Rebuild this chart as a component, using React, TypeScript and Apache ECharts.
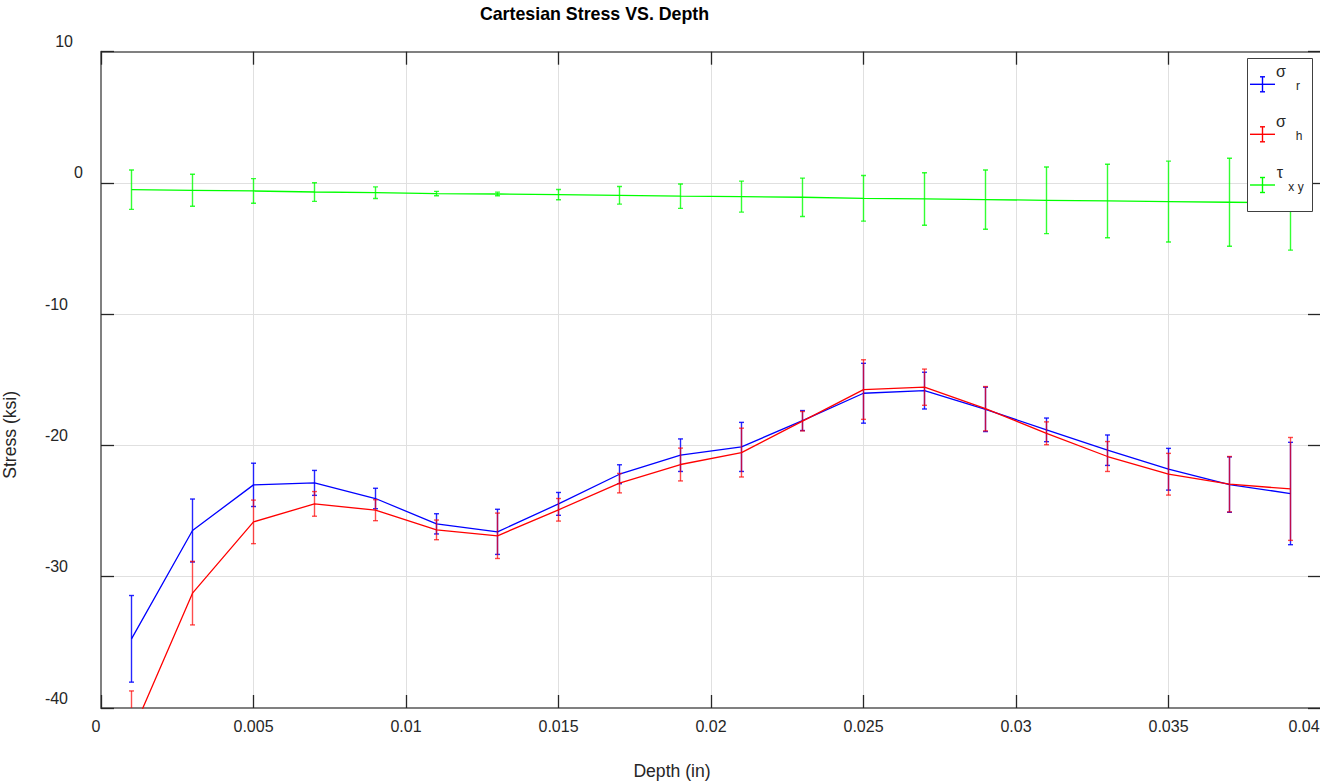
import React, { useEffect, useRef } from "react";
import * as echarts from "echarts";

// Depth sample positions (in)
const depth = [
  0.001, 0.003, 0.005, 0.007, 0.009, 0.011, 0.013, 0.015, 0.017, 0.019,
  0.021, 0.023, 0.025, 0.027, 0.029, 0.031, 0.033, 0.035, 0.037, 0.039,
];

// σr mean and error (ksi)
const sigmaR = [
  -34.73, -26.48, -23.0, -22.85, -24.04, -25.97, -26.58, -24.45, -22.19, -20.74,
  -20.11, -18.1, -16.02, -15.82, -17.25, -18.81, -20.36, -21.81, -22.98, -23.66,
];
const sigmaRErr = [
  3.3, 2.4, 1.65, 0.95, 0.78, 0.77, 1.72, 0.87, 0.72, 1.24,
  1.87, 0.76, 2.28, 1.4, 1.69, 0.9, 1.16, 1.59, 2.11, 3.9,
];

// σh mean and error (ksi)
const sigmaH = [
  -42.0, -31.25, -25.82, -24.45, -24.93, -26.43, -26.88, -24.9, -22.87, -21.45,
  -20.54, -18.15, -15.74, -15.56, -17.2, -19.07, -20.84, -22.19, -22.95, -23.31,
];
const sigmaHErr = [
  3.3, 2.42, 1.66, 0.94, 0.8, 0.75, 1.73, 0.86, 0.74, 1.25,
  1.86, 0.74, 2.27, 1.38, 1.69, 0.87, 1.14, 1.59, 2.11, 3.92,
];

// τxy mean and error (ksi)
const tauXY = [
  -0.51, -0.56, -0.61, -0.69, -0.74, -0.81, -0.84, -0.89, -0.94, -1.01,
  -1.04, -1.09, -1.17, -1.22, -1.27, -1.32, -1.37, -1.42, -1.47, -1.52,
];
const tauErr = [
  1.5, 1.22, 0.94, 0.71, 0.44, 0.17, 0.14, 0.39, 0.67, 0.93,
  1.18, 1.46, 1.74, 2.0, 2.26, 2.54, 2.8, 3.08, 3.35, 3.6,
];

const xTickLabels = ["0", "0.005", "0.01", "0.015", "0.02", "0.025", "0.03", "0.035", "0.04"];
const yTickLabels = ["-40", "-30", "-20", "-10", "0", "10"];

const BLUE = "#0000ff";
const RED = "#ff0000";
const GREEN = "#00ff00";
const FONT = "'Liberation Sans', Arial, Helvetica, sans-serif";
const TEXT = "#262626";

function errorBarSeries(name: string, ys: number[], errs: number[], color: string, opacity: number) {
  return {
    name: name + "-err",
    type: "custom",
    clip: true,
    data: depth.map((d, i) => [d, ys[i], errs[i]]),
    encode: { x: 0, y: 1 },
    renderItem: (_params: any, api: any) => {
      const x = api.value(0);
      const y = api.value(1);
      const e = api.value(2);
      const top = api.coord([x, y + e]);
      const bot = api.coord([x, y - e]);
      const hw = 2.5;
      const style = { stroke: color, lineWidth: 1.4, opacity };
      return {
        type: "group",
        children: [
          { type: "line", shape: { x1: top[0], y1: top[1], x2: bot[0], y2: bot[1] }, style },
          { type: "line", shape: { x1: top[0] - hw, y1: top[1], x2: top[0] + hw, y2: top[1] }, style },
          { type: "line", shape: { x1: bot[0] - hw, y1: bot[1], x2: bot[0] + hw, y2: bot[1] }, style },
        ],
      };
    },
  };
}

function lineSeries(name: string, ys: number[], color: string) {
  return {
    name,
    type: "line",
    data: depth.map((d, i) => [d, ys[i]]),
    showSymbol: false,
    clip: true,
    lineStyle: { color, width: 1.3 },
    itemStyle: { color },
  };
}

function legendEntry(y0: number, color: string, main: string, sub: string, mainX: number, subX: number) {
  const s = { stroke: color, lineWidth: 1.4 };
  return [
    { type: "line", z: 101, shape: { x1: 1250, y1: y0, x2: 1275, y2: y0 }, style: s },
    { type: "line", z: 101, shape: { x1: 1262.5, y1: y0 - 7.5, x2: 1262.5, y2: y0 + 7.5 }, style: s },
    { type: "line", z: 101, shape: { x1: 1260, y1: y0 - 7.5, x2: 1265, y2: y0 - 7.5 }, style: s },
    { type: "line", z: 101, shape: { x1: 1260, y1: y0 + 7.5, x2: 1265, y2: y0 + 7.5 }, style: s },
    {
      type: "text", z: 101, x: mainX, y: y0 - 12.5,
      style: { text: main, fill: TEXT, font: `16px ${FONT}`, align: "center", verticalAlign: "middle" },
    },
    {
      type: "text", z: 101, x: subX, y: y0 + 1.5,
      style: { text: sub, fill: TEXT, font: `12px ${FONT}`, align: "center", verticalAlign: "middle" },
    },
  ];
}

export default function App() {
  const ref = useRef<HTMLDivElement>(null);

  useEffect(() => {
    if (!ref.current) return;
    const chart = echarts.init(ref.current, undefined, { renderer: "svg" });

    const option: any = {
      animation: false,
      backgroundColor: "#ffffff",
      title: {
        text: "Cartesian Stress VS. Depth",
        left: 594.5,
        top: 3,
        textAlign: "center",
        padding: 0,
        textStyle: { fontFamily: FONT, fontSize: 17.8, fontWeight: "bold", color: "#000000", lineHeight: 22 },
      },
      grid: {
        left: 101,
        top: 51.7,
        width: 1220,
        height: 656.3,
        containLabel: false,
        outerBoundsMode: "none",
      },
      xAxis: [
        {
          type: "value",
          position: "bottom",
          min: 0,
          max: 0.04,
          interval: 0.005,
          name: "Depth (in)",
          nameLocation: "middle",
          nameGap: 54,
          nameTextStyle: { fontFamily: FONT, fontSize: 17.6, color: TEXT, padding: [0, 78, 0, 0] },
          axisLine: { show: true, onZero: false, lineStyle: { color: "#808080", width: 2 } },
          axisTick: { show: true, inside: true, length: 13, lineStyle: { color: TEXT, width: 1.3 } },
          splitLine: { show: true, lineStyle: { color: "#e0e0e0", width: 1 } },
          axisLabel: {
            margin: 10,
            fontFamily: FONT,
            fontSize: 16,
            color: TEXT,
            formatter: (v: number) => {
              const t = xTickLabels[Math.round(v / 0.005)];
              if (t === "0") return `{p0|${t}}`;
              if (t === "0.04") return `{pEnd|${t}}`;
              return t;
            },
            rich: {
              p0: { fontFamily: FONT, fontSize: 16, color: TEXT, padding: [0, 10, 0, 0] },
              pEnd: { fontFamily: FONT, fontSize: 16, color: TEXT, padding: [0, 34, 0, 0] },
            },
          },
        },
        {
          type: "value",
          position: "top",
          min: 0,
          max: 0.04,
          interval: 0.005,
          axisLine: { show: true, onZero: false, lineStyle: { color: "#808080", width: 2 } },
          axisTick: { show: true, inside: true, length: 13, lineStyle: { color: TEXT, width: 1.3 } },
          splitLine: { show: false },
          axisLabel: { show: false },
        },
      ],
      yAxis: [
        {
          type: "value",
          position: "left",
          min: -40,
          max: 10,
          interval: 10,
          name: "Stress (ksi)",
          nameLocation: "middle",
          nameGap: 82,
          nameTextStyle: { fontFamily: FONT, fontSize: 17.6, color: TEXT, padding: [0, 110, 0, 0] },
          axisLine: { show: true, onZero: false, lineStyle: { color: "#808080", width: 2 } },
          axisTick: { show: true, inside: true, length: 13, lineStyle: { color: TEXT, width: 1.3 } },
          splitLine: { show: true, lineStyle: { color: "#e0e0e0", width: 1 } },
          axisLabel: {
            margin: 18,
            align: "right",
            formatter: (v: number) => {
              const t = yTickLabels[Math.round((v + 40) / 10)];
              const key = t === "10" ? "a" : t === "0" ? "b" : "c";
              return `{${key}|${t}}`;
            },
            rich: {
              a: { fontFamily: FONT, fontSize: 16, color: TEXT, padding: [0, 10, 20, 0] },
              b: { fontFamily: FONT, fontSize: 16, color: TEXT, padding: [0, 0, 20, 0] },
              c: { fontFamily: FONT, fontSize: 16, color: TEXT, padding: [0, 15, 20, 0] },
            },
          },
        },
        {
          type: "value",
          position: "right",
          min: -40,
          max: 10,
          interval: 10,
          axisLine: { show: true, onZero: false, lineStyle: { color: "#808080", width: 2 } },
          axisTick: { show: true, inside: true, length: 13, lineStyle: { color: TEXT, width: 1.3 } },
          splitLine: { show: false },
          axisLabel: { show: false },
        },
      ],
      series: [
        { ...lineSeries("σr", sigmaR, BLUE), z: 2 },
        { ...errorBarSeries("σr", sigmaR, sigmaRErr, BLUE, 0.85), z: 3 },
        { ...lineSeries("σh", sigmaH, RED), z: 4 },
        { ...errorBarSeries("σh", sigmaH, sigmaHErr, RED, 0.7), z: 5 },
        { ...lineSeries("τxy", tauXY, GREEN), z: 6 },
        { ...errorBarSeries("τxy", tauXY, tauErr, GREEN, 0.8), z: 7 },
      ],
      graphic: [
        {
          type: "rect",
          z: 100,
          shape: { x: 1247.5, y: 58.5, width: 65, height: 153 },
          style: { fill: "#ffffff", stroke: "#404040", lineWidth: 1 },
        },
        ...legendEntry(84.3, BLUE, "σ", "r", 1281, 1298),
        ...legendEntry(134.3, RED, "σ", "h", 1281, 1299),
        ...legendEntry(185, GREEN, "τ", "x y", 1280, 1296),
      ],
    };

    chart.setOption(option);
    return () => chart.dispose();
  }, []);

  return (
    <div
      ref={ref}
      style={{ position: "absolute", left: 0, top: 0, width: 1320, height: 783, overflow: "hidden" }}
    />
  );
}
